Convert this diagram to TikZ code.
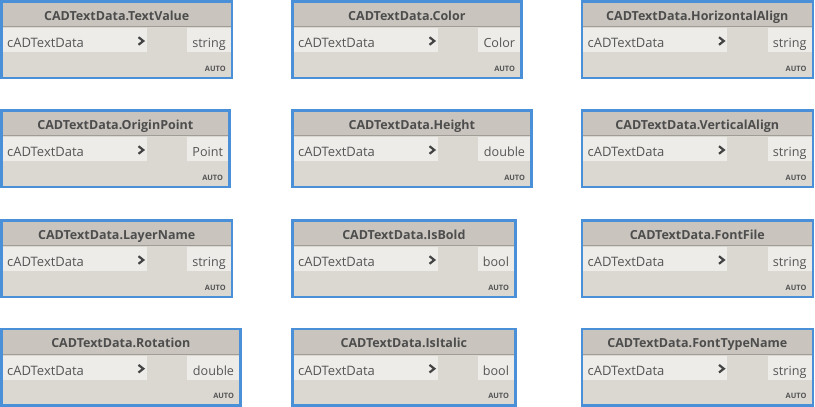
\documentclass[tikz,border=0pt]{standalone}
\usepackage{fontspec}
\setmainfont{Open Sans}
\definecolor{nodeblue}{RGB}{74,144,217}
\definecolor{headfill}{RGB}{201,197,190}
\definecolor{bodyfill}{RGB}{219,216,210}
\definecolor{rowfill}{RGB}{237,236,233}
\definecolor{divline}{RGB}{160,156,150}
\definecolor{titletext}{RGB}{77,77,77}
\definecolor{labeltext}{RGB}{85,85,85}
\tikzset{
  x=1pt, y=-1pt,
  frame/.style={draw=nodeblue, line width=2.5pt},
  titlelbl/.style={font=\fontsize{12.5}{14}\selectfont\bfseries, text=titletext, inner sep=0pt, anchor=base},
  inlbl/.style={font=\fontsize{13}{15}\selectfont, text=labeltext, inner sep=0pt, anchor=base west},
  outlbl/.style={font=\fontsize{12.6}{15}\selectfont, text=labeltext, inner sep=0pt, anchor=base east},
  autolbl/.style={font=\fontsize{7.4}{8}\selectfont\bfseries, text=labeltext, inner sep=0pt, anchor=base east},
  chevron/.style={draw=labeltext!80!black, line width=2.2pt},
}
% #1 id, #2 x, #3 y, #4 title, #5 output, #6 outer width
\newcommand{\dynnode}[6]{%
  \begin{scope}[shift={(#2,#3)}]
    \pgfmathsetmacro{\rin}{#6-1.25}
    \pgfmathsetmacro{\rtxt}{#6-7.5}
    \pgfmathsetmacro{\ctr}{#6/2}
    \fill[bodyfill] (1.25,1.25) rectangle (\rin,77.75);
    \fill[headfill] (1.25,1.25) rectangle (\rin,26.5);
    \draw[divline, line width=0.8pt] (1.25,26.5) -- (\rin,26.5);
    \fill[rowfill] (1.25,28) rectangle (146.8,52);
    \fill[rowfill] (187.3,28) rectangle (\rin,52);
    \draw[frame] (1.25,1.25) rectangle (\rin,77.75);
    \node[titlelbl] (#1-title) at (\ctr,20) {#4};
    \node[inlbl] (#1-in) at (7,47.3) {cADTextData};
    \draw[chevron] (138.5,37.2) -- (143.3,41) -- (138.5,44.8);
    \node[outlbl] (#1-out) at (\rtxt,47.3) {#5};
    \node[autolbl] (#1-auto) at (\rtxt,71) {AUTO};
  \end{scope}}
\begin{document}
\begin{tikzpicture}
\useasboundingbox (0,0) rectangle (815,407);
\dynnode{a}{0}{0}{CADTextData.TextValue}{string}{233.4}
\dynnode{b}{291}{0}{CADTextData.Color}{Color}{231.7}
\dynnode{c}{580.5}{0}{CADTextData.HorizontalAlign}{string}{233.6}
\dynnode{d}{0}{109}{CADTextData.OriginPoint}{Point}{230.7}
\dynnode{e}{291}{109}{CADTextData.Height}{double}{241.7}
\dynnode{f}{580.5}{109}{CADTextData.VerticalAlign}{string}{233.6}
\dynnode{g}{0}{219}{CADTextData.LayerName}{string}{233.4}
\dynnode{h}{291}{219}{CADTextData.IsBold}{bool}{225.7}
\dynnode{i}{580.5}{219}{CADTextData.FontFile}{string}{233.6}
\dynnode{j}{0}{327.7}{CADTextData.Rotation}{double}{241.7}
\dynnode{k}{291}{327.7}{CADTextData.IsItalic}{bool}{225.7}
\dynnode{l}{580.5}{327.7}{CADTextData.FontTypeName}{string}{233.6}
\end{tikzpicture}
\end{document}
